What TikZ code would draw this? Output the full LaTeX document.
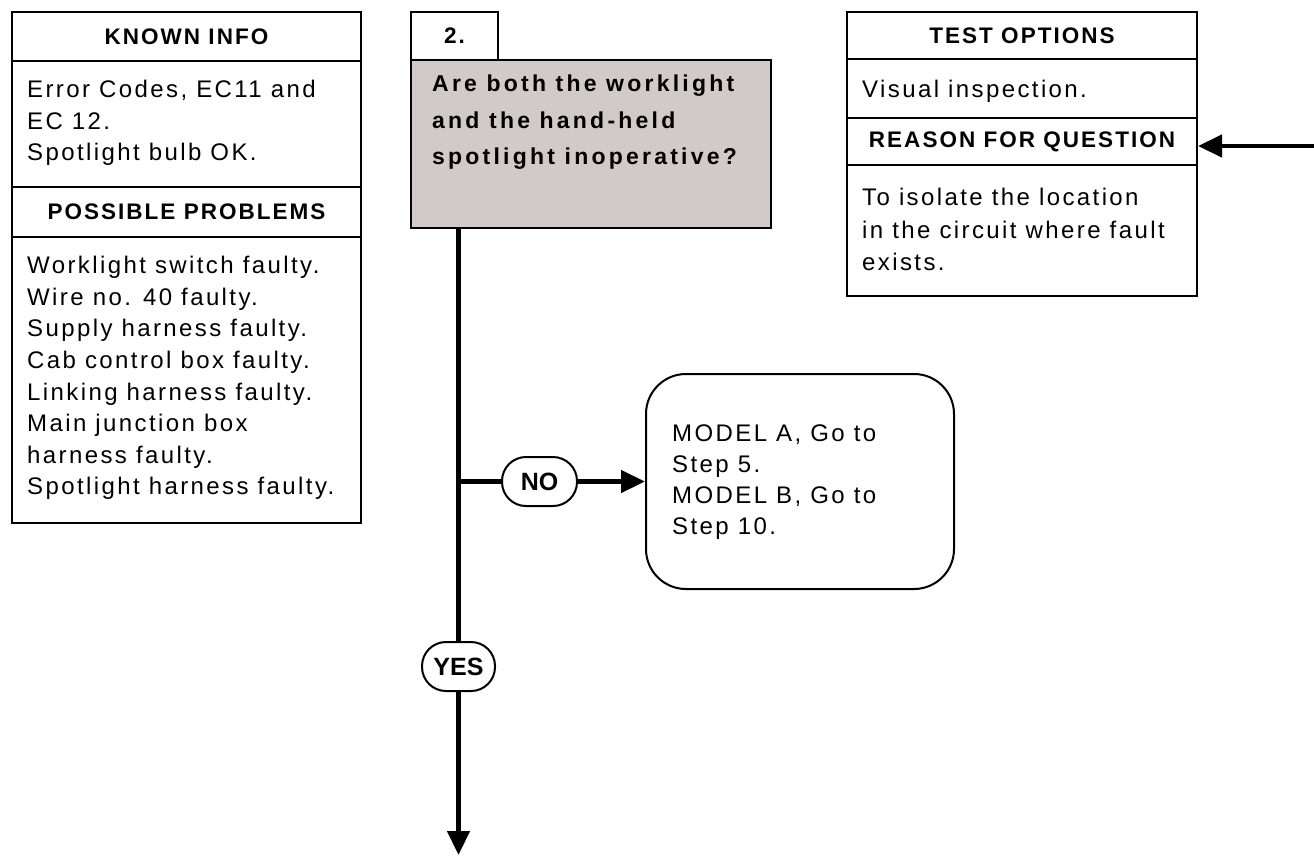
\documentclass[tikz,border=0pt]{standalone}
\usepackage{fontspec}
\usetikzlibrary{arrows.meta}
\newfontfamily\lsans[LetterSpace=10]{Liberation Sans}
\newfontfamily\lsansh[LetterSpace=9]{Liberation Sans}
\newfontfamily\lsansq[LetterSpace=14]{Liberation Sans}
\newfontfamily\lsansp{Liberation Sans}
\definecolor{qgray}{RGB}{209,202,201}
\newcommand\hfnt{\lsansh\bfseries\fontsize{22.5}{26}\selectfont}
\newcommand\txtA{\lsans\fontsize{24}{31.6}\selectfont}
\newcommand\txtR{\lsans\fontsize{24}{32.5}\selectfont}
\newcommand\txtM{\lsans\fontsize{24}{31}\selectfont}
\newcommand\txtQ{\lsansq\bfseries\fontsize{23}{36.5}\selectfont}
\newcommand\pfnt{\lsansp\bfseries\fontsize{25}{28}\selectfont}
\tikzset{
  box/.style={draw, line width=2pt, inner sep=0pt, anchor=north west},
  txt/.style={anchor=north west, inner sep=0pt, align=left},
  conn/.style={line width=4.5pt},
  tip/.style={-{Triangle[length=24pt,width=22pt]}},
  pill/.style={draw, line width=2pt, fill=white, rounded corners=24pt, minimum height=49pt, inner sep=0pt, font=\pfnt}
}
\begin{document}
\begin{tikzpicture}[x=1pt,y=-1pt]
\useasboundingbox (0,0) rectangle (1314,855);
% left column
\node[box, minimum width=349pt, minimum height=49pt, font=\hfnt] (kh) at (11,11) {KNOWN INFO};
\node[box, minimum width=349pt, minimum height=126pt] (kb) at (11,60) {};
\node[box, minimum width=349pt, minimum height=50pt, font=\hfnt] (ph) at (11,186) {POSSIBLE PROBLEMS};
\node[box, minimum width=349pt, minimum height=286pt] (pb) at (11,236) {};
\node[txt, font=\txtA] (kt) at (27,80) {Error Codes, EC11 and\\EC 12.\\Spotlight bulb OK.};
\node[txt, font=\txtA] (pt) at (27,256) {Worklight switch faulty.\\Wire no. 40 faulty.\\Supply harness faulty.\\Cab control box faulty.\\Linking harness faulty.\\Main junction box\\harness faulty.\\Spotlight harness faulty.};
% question
\node[box, fill=qgray, minimum width=360pt, minimum height=168pt] (q) at (410,59) {};
\node[box, minimum width=87pt, minimum height=48pt, font=\hfnt] (num) at (410,11) {2.};
\node[txt, font=\txtQ] (qt) at (432,75) {Are both the worklight\\and the hand-held\\spotlight inoperative?};
% right column
\node[box, minimum width=350pt, minimum height=47pt, font=\hfnt] (th) at (846,11) {TEST OPTIONS};
\node[box, minimum width=350pt, minimum height=59pt] (tb) at (846,58) {};
\node[box, minimum width=350pt, minimum height=47pt, font=\hfnt] (rh) at (846,117) {REASON FOR QUESTION};
\node[box, minimum width=350pt, minimum height=131pt] (rb) at (846,164) {};
\node[txt, font=\txtA] (vt) at (862,80) {Visual inspection.};
\node[txt, font=\txtR] (rt) at (862,188) {To isolate the location\\in the circuit where fault\\exists.};
% result box
\node[draw, line width=2pt, rounded corners=40pt, minimum width=308pt, minimum height=215pt, anchor=north west, inner sep=0pt] (res) at (645,373) {};
\node[txt, font=\txtM] (mt) at (672,425) {MODEL A, Go to\\Step 5.\\MODEL B, Go to\\Step 10.};
% pills
\node[pill, minimum width=75pt] (no) at (539.5,481.5) {NO};
\node[pill, minimum width=73pt] (yes) at (458.5,666.5) {YES};
% coordinates
\coordinate (j) at (458.5,481.5);
\coordinate (bot) at (458.5,855);
\coordinate (rin) at (1314,146);
% connectors
\draw[conn] (q.south -| yes.north) -- (yes.north);
\draw[conn, tip] (yes.south) -- (bot);
\draw[conn] (j) -- (no.west);
\draw[conn, tip] (no.east) -- (res.west |- no.east);
\draw[conn, tip] (rin) -- (rin -| rh.east);
\end{tikzpicture}
\end{document}
